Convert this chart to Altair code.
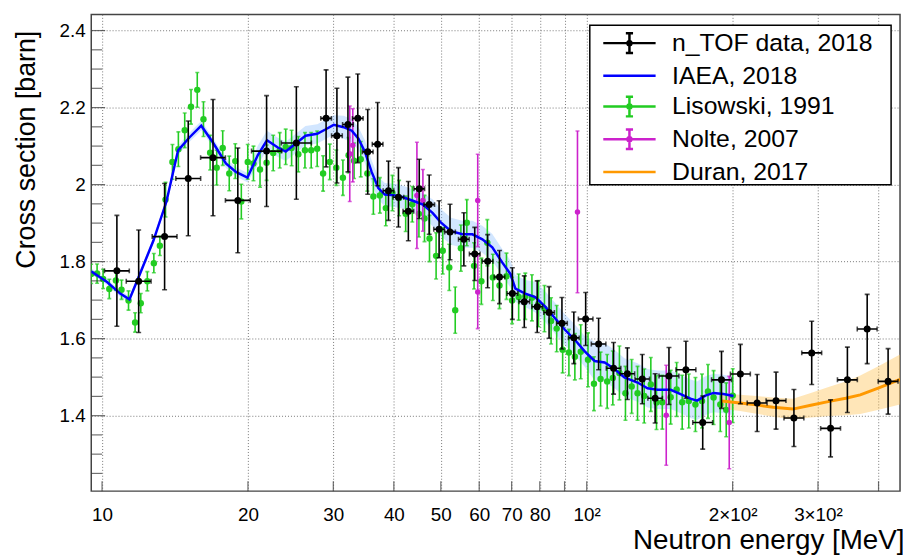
import altair as alt
import pandas as pd
import numpy as np

# ---------------- data ----------------
ntof_E = [10.73, 11.90, 13.46, 15.06, 16.94, 19.06, 21.85, 25.17, 28.99, 30.52,
          32.16, 33.70, 35.33, 37.03, 38.99, 40.88, 42.85, 45.13, 47.31, 49.59,
          52.23, 55.78, 58.74, 62.45, 66.07, 70.24, 74.33, 79.03, 83.62, 88.89,
          94.06, 99.5, 105.8, 113.6, 121.3, 130.2, 138.4, 147.8, 160.2, 173.5,
          189.7, 207.5, 224.7, 245.8, 267.6, 291.2, 318.5, 345.0, 379.0, 418.6]
ntof_xs = [1.776, 1.749, 1.865, 2.016, 2.070, 1.959, 2.087, 2.108, 2.172, 2.127,
           2.156, 2.172, 2.085, 2.105, 1.984, 1.967, 1.931, 1.989, 1.948, 1.884,
           1.877, 1.858, 1.820, 1.801, 1.760, 1.717, 1.696, 1.683, 1.668, 1.640,
           1.602, 1.651, 1.586, 1.523, 1.509, 1.495, 1.445, 1.503, 1.519, 1.382,
           1.493, 1.508, 1.433, 1.439, 1.394, 1.563, 1.367, 1.493, 1.625, 1.489]
ntof_err = [0.144, 0.133, 0.138, 0.149, 0.151, 0.136, 0.144, 0.146, 0.126, 0.123,
            0.123, 0.115, 0.110, 0.108, 0.077, 0.077, 0.077, 0.077, 0.077, 0.074,
            0.072, 0.069, 0.069, 0.069, 0.069, 0.067, 0.067, 0.067, 0.067, 0.067,
            0.067, 0.069, 0.067, 0.067, 0.067, 0.064, 0.064, 0.074, 0.074, 0.069,
            0.074, 0.077, 0.074, 0.074, 0.074, 0.082, 0.074, 0.085, 0.090, 0.085]
# half bin width in decades of energy
ntof_dlog = [0.0256] * 6 + [0.031] * 2 + [0.011] * 23 + [0.015] * 6 + [0.0205] * 13

lis_E = [9.495, 9.767, 10.05, 10.35, 10.68, 10.97, 11.34, 11.70, 12.02, 12.40,
         12.79, 13.16, 13.52, 13.97, 14.37, 14.81, 15.26, 15.72, 16.19, 16.71,
         17.24, 17.74, 18.30, 18.83, 19.38, 19.98, 20.53, 21.18, 21.85, 22.55,
         23.26, 23.93, 24.61, 25.41, 26.22, 27.01, 27.79, 28.58, 29.50, 30.43,
         31.40, 32.26, 33.11, 34.18, 35.27, 36.29, 37.43, 38.50, 39.73, 41.01,
         42.31, 43.66, 45.06, 46.27, 47.38, 48.89, 50.46, 52.05, 53.54, 55.00,
         56.57, 58.55, 60.62, 62.36, 64.02, 66.07, 68.30, 70.15, 72.37, 74.69,
         77.08, 79.51, 81.80, 84.42, 86.70, 89.19, 91.88, 94.52, 97.2, 100.6,
         103.5, 106.8, 110.2, 113.2, 116.8, 120.2, 123.8, 127.3, 131.4, 135.6,
         139.3, 143.2, 149.0, 153.3, 157.4, 162.4, 167.6, 172.9, 177.9, 182.7,
         188.6, 194.0, 200.1]
lis_xs = [1.768, 1.769, 1.755, 1.729, 1.751, 1.727, 1.699, 1.642, 1.692, 1.749,
          1.796, 1.841, 1.961, 2.059, 2.092, 2.141, 2.202, 2.246, 2.170, 2.083,
          2.044, 2.095, 2.029, 2.061, 1.956, 2.059, 2.055, 2.039, 2.057, 2.082,
          2.089, 2.098, 2.095, 2.079, 2.089, 2.089, 2.093, 2.029, 2.059, 2.044,
          2.018, 2.076, 2.062, 2.066, 2.029, 1.969, 1.972, 1.939, 1.978, 1.965,
          1.924, 1.949, 1.924, 1.912, 1.860, 1.815, 1.828, 1.785, 1.674, 1.835,
          1.901, 1.789, 1.749, 1.849, 1.759, 1.738, 1.762, 1.699, 1.708, 1.710,
          1.706, 1.691, 1.678, 1.646, 1.626, 1.571, 1.564, 1.553, 1.566, 1.545,
          1.483, 1.495, 1.489, 1.498, 1.511, 1.458, 1.476, 1.458, 1.451, 1.481,
          1.434, 1.435, 1.448, 1.468, 1.435, 1.438, 1.429, 1.438, 1.463, 1.447,
          1.429, 1.415, 1.452]
lis_err = [0.025] * 12 + [0.045] * 15 + [0.046] * 25 + [0.06] * 26 + [0.07] * 25

nolte_E = [32.44, 32.91, 44.63, 45.92, 59.58, 59.58, 95.7, 145.9, 196.8]
nolte_xs = [2.080, 2.102, 1.972, 1.959, 1.959, 1.721, 1.929, 1.401, 1.382]
nolte_err = [0.124, 0.095, 0.138, 0.080, 0.120, 0.095, 0.210, 0.130, 0.120]

iaea_E = [9.495, 10.24, 10.90, 11.39, 11.97, 12.76, 13.58, 14.35, 15.16, 16.02,
          16.92, 18.01, 18.89, 19.95, 20.95, 21.89, 23.01, 23.93, 25.29, 26.29,
          27.79, 28.89, 30.06, 31.51, 32.76, 33.81, 34.87, 35.99, 37.15, 38.32,
          40.17, 41.79, 43.80, 45.92, 48.13, 50.06, 52.48, 55.42, 58.09, 60.91,
          63.85, 66.93, 69.59, 71.26, 74.69, 78.29, 82.07, 86.03, 90.16, 94.52,
          99.06, 103.8, 108.9, 114.1, 119.6, 127.3, 133.5, 139.9, 149.0, 156.2,
          163.7, 168.9, 175.7, 182.7, 191.5, 200.8]
iaea_xs = [1.775, 1.747, 1.717, 1.702, 1.768, 1.854, 1.956, 2.089, 2.123, 2.153,
           2.110, 2.055, 2.033, 2.018, 2.076, 2.115, 2.097, 2.086, 2.110, 2.127,
           2.132, 2.143, 2.155, 2.149, 2.140, 2.119, 2.085, 2.033, 1.991, 1.974,
           1.972, 1.967, 1.958, 1.948, 1.926, 1.901, 1.879, 1.871, 1.871, 1.858,
           1.837, 1.798, 1.768, 1.730, 1.717, 1.708, 1.683, 1.653, 1.623, 1.597,
           1.567, 1.542, 1.538, 1.521, 1.499, 1.486, 1.471, 1.467, 1.467, 1.456,
           1.444, 1.439, 1.452, 1.459, 1.456, 1.451]
iaea_unc = [0.008] * 7 + [0.012] * 7 + [0.025] * 9 + [0.03] * 11 + [0.035] * 11 + [0.04] * 6 + [0.05] * 15

duran_E = [190.0, 207.2, 224.0, 242.4, 266.3, 289.9, 316.6, 342.3, 366.7, 400.6, 442.9]
duran_xs = [1.438, 1.433, 1.428, 1.422, 1.417, 1.427, 1.437, 1.445, 1.454, 1.472, 1.494]
duran_unc = [0.020, 0.021, 0.023, 0.025, 0.027, 0.032, 0.038, 0.044, 0.050, 0.057, 0.065]

series_names = ["n_TOF data, 2018", "IAEA, 2018", "Lisowski, 1991", "Nolte, 2007", "Duran, 2017"]
series_colors = ["#000000", "#0000ff", "#22cc22", "#cc22cc", "#ff9900"]

x_tick_values = [10, 20, 30, 40, 50, 60, 70, 80, 90, 100, 200, 300, 400]
y_major = [1.4, 1.6, 1.8, 2.0, 2.2, 2.4]
y_minor = [1.25, 1.3, 1.35, 1.45, 1.5, 1.55, 1.65, 1.7, 1.75, 1.85, 1.9, 1.95,
           2.05, 2.1, 2.15, 2.25, 2.3, 2.35]

# ---------------- frames ----------------
ntof = pd.DataFrame({"E": ntof_E, "v": ntof_xs, "e": ntof_err, "d": ntof_dlog})
ntof["lo"] = ntof.v - ntof.e
ntof["hi"] = ntof.v + ntof.e
ntof["xlo"] = ntof.E * 10 ** (-ntof.d)
ntof["xhi"] = ntof.E * 10 ** (ntof.d)

lis = pd.DataFrame({"E": lis_E, "v": lis_xs, "e": lis_err})
lis["lo"] = lis.v - lis.e
lis["hi"] = lis.v + lis.e

nol = pd.DataFrame({"E": nolte_E, "v": nolte_xs, "e": nolte_err})
nol["lo"] = nol.v - nol.e
nol["hi"] = nol.v + nol.e

iaea = pd.DataFrame({"E": iaea_E, "v": iaea_xs, "u": iaea_unc})
iaea["lo"] = iaea.v - iaea.u
iaea["hi"] = iaea.v + iaea.u

dur = pd.DataFrame({"E": duran_E, "v": duran_xs, "u": duran_unc})
dur["lo"] = dur.v - dur.u
dur["hi"] = dur.v + dur.u

W, H = 816, 481
FONT = "Liberation Sans"

xs = alt.Scale(type="log", domain=[9.5, 443], nice=False)
ys = alt.Scale(domain=[1.204, 2.442], nice=False, zero=False)

x_label_expr = ("datum.value == 100 ? '10²' : datum.value == 200 ? '2×10²' : "
                "datum.value == 300 ? '3×10²' : (datum.value == 90 || datum.value == 400) ? '' : "
                "format(datum.value, 'd')")

x_axis = alt.Axis(values=x_tick_values, grid=True, ticks=False, domain=False,
                  labelExpr=x_label_expr, labelFont=FONT, labelFontSize=19,
                  labelColor="black", labelPadding=15, labelBaseline="top",
                  labelFlush=False, labelOverlap=False,
                  gridColor="#777777", gridDash=[1, 2], gridWidth=1,
                  title="Neutron energy [MeV]", titleFont=FONT, titleFontSize=28,
                  titleFontWeight="normal", titleColor="black",
                  titleAnchor="end", titleAlign="right", titleBaseline="alphabetic",
                  titleX=W + 4, titleY=58)
y_axis = alt.Axis(values=y_major, grid=True, ticks=False, domain=False,
                  labelExpr="format(datum.value, '.1~f')", labelFont=FONT,
                  labelFontSize=19, labelColor="black", labelPadding=6,
                  gridColor="#777777", gridDash=[1, 2], gridWidth=1,
                  title="Cross section [barn]", titleFont=FONT, titleFontSize=27,
                  titleFontWeight="normal", titleColor="black",
                  titleAnchor="end", titleAlign="right", titleBaseline="alphabetic",
                  titleAngle=270, titleX=-57, titleY=16)


def X(field):
    return alt.X(field, type="quantitative", scale=xs, axis=x_axis)


def Y(field):
    return alt.Y(field, type="quantitative", scale=ys, axis=y_axis)


# bands
iaea_band = alt.Chart(iaea).mark_area(color="#7fb6ff", opacity=0.35, clip=True).encode(
    x=X("E"), y=Y("lo"), y2="hi")
dur_band = alt.Chart(dur).mark_area(color="#ffc14d", opacity=0.4, clip=True).encode(
    x=X("E"), y=Y("lo"), y2="hi")

# Lisowski
GREEN = series_colors[2]
lis_bar = alt.Chart(lis).mark_rule(color=GREEN, strokeWidth=1.6, clip=True).encode(
    x=X("E"), y=Y("lo"), y2="hi")
lis_cap_lo = alt.Chart(lis).mark_tick(color=GREEN, orient="horizontal", size=4, thickness=1.6, clip=True).encode(
    x=X("E"), y=Y("lo"))
lis_cap_hi = alt.Chart(lis).mark_tick(color=GREEN, orient="horizontal", size=4, thickness=1.6, clip=True).encode(
    x=X("E"), y=Y("hi"))
lis_pt = alt.Chart(lis).mark_point(color=GREEN, filled=True, opacity=1, size=42, shape="circle", clip=True).encode(
    x=X("E"), y=Y("v"))

# Nolte
MAG = series_colors[3]
nol_bar = alt.Chart(nol).mark_rule(color=MAG, strokeWidth=1.6, clip=True).encode(
    x=X("E"), y=Y("lo"), y2="hi")
nol_cap_lo = alt.Chart(nol).mark_tick(color=MAG, orient="horizontal", size=4, thickness=1.6, clip=True).encode(
    x=X("E"), y=Y("lo"))
nol_cap_hi = alt.Chart(nol).mark_tick(color=MAG, orient="horizontal", size=4, thickness=1.6, clip=True).encode(
    x=X("E"), y=Y("hi"))
nol_pt = alt.Chart(nol).mark_point(color=MAG, filled=True, opacity=1, size=30, shape="circle", clip=True).encode(
    x=X("E"), y=Y("v"))

# lines
iaea_line = alt.Chart(iaea).mark_line(color=series_colors[1], strokeWidth=2.5, clip=True).encode(
    x=X("E"), y=Y("v"))
dur_line = alt.Chart(dur).mark_line(color=series_colors[4], strokeWidth=3, clip=True).encode(
    x=X("E"), y=Y("v"))

# n_TOF
BLK = series_colors[0]
nt_vbar = alt.Chart(ntof).mark_rule(color=BLK, strokeWidth=1.6, clip=True).encode(
    x=X("E"), y=Y("lo"), y2="hi")
nt_hbar = alt.Chart(ntof).mark_rule(color=BLK, strokeWidth=1.6, clip=True).encode(
    x=X("xlo"), x2="xhi", y=Y("v"))
nt_cap_lo = alt.Chart(ntof).mark_tick(color=BLK, orient="horizontal", size=5, thickness=1.6, clip=True).encode(
    x=X("E"), y=Y("lo"))
nt_cap_hi = alt.Chart(ntof).mark_tick(color=BLK, orient="horizontal", size=5, thickness=1.6, clip=True).encode(
    x=X("E"), y=Y("hi"))
nt_cap_l = alt.Chart(ntof).mark_tick(color=BLK, orient="vertical", size=5, thickness=1.6, clip=True).encode(
    x=X("xlo"), y=Y("v"))
nt_cap_r = alt.Chart(ntof).mark_tick(color=BLK, orient="vertical", size=5, thickness=1.6, clip=True).encode(
    x=X("xhi"), y=Y("v"))
nt_pt = alt.Chart(ntof).mark_point(color=BLK, filled=True, opacity=1, size=50, shape="circle", clip=True).encode(
    x=X("E"), y=Y("v"))

# inner axis ticks (ROOT style)
ytm = alt.Chart(pd.DataFrame({"v": y_major})).mark_tick(
    color="#333333", orient="horizontal", size=14, thickness=1.2).encode(
    y=Y("v"), x=alt.value(7))
ytn = alt.Chart(pd.DataFrame({"v": y_minor})).mark_tick(
    color="#333333", orient="horizontal", size=11, thickness=1.2).encode(
    y=Y("v"), x=alt.value(5.5))
xtm = alt.Chart(pd.DataFrame({"E": x_tick_values})).mark_tick(
    color="#333333", orient="vertical", size=10, thickness=1.2).encode(
    x=X("E"), y=alt.value(H - 5))

# legend (dummy points outside the x domain, clipped)
errbar_path = ("M-1.6,0H1.6M0,-0.6V0.6M-0.22,-0.6H0.22M-0.22,0.6H0.22"
               "M0.12,0A0.12,0.12 0 1 1 -0.12,0A0.12,0.12 0 1 1 0.12,0")
line_path = "M-1.6,0H1.6"
leg_df = pd.DataFrame({"series": series_names, "E": [1.0] * 5, "v": [2.0] * 5})
PADCH = "\u2800"
leg_spec = alt.Legend(title=None, orient="none", legendX=503, legendY=11,
                      symbolSize=1089, symbolStrokeWidth=2.5,
                      symbolOffset=22, labelOffset=25,
                      labelFont=FONT, labelFontSize=25, labelColor="black",
                      labelExpr="datum.label + '" + PADCH + "'",
                      labelLimit=400,
                      padding=0, rowPadding=0,
                      strokeColor="black", fillColor="white")
legend = alt.Chart(leg_df).mark_point(filled=False, opacity=1, clip=True, strokeWidth=2.5).encode(
    x=X("E"), y=Y("v"),
    color=alt.Color("series:N", scale=alt.Scale(domain=series_names, range=series_colors), legend=leg_spec),
    shape=alt.Shape("series:N",
                    scale=alt.Scale(domain=series_names,
                                    range=[errbar_path, line_path, errbar_path, errbar_path, line_path]),
                    legend=leg_spec))

chart = alt.layer(
    iaea_band, dur_band,
    lis_bar, lis_cap_lo, lis_cap_hi, lis_pt,
    nol_bar, nol_cap_lo, nol_cap_hi, nol_pt,
    iaea_line, dur_line,
    nt_vbar, nt_hbar, nt_cap_lo, nt_cap_hi, nt_cap_l, nt_cap_r, nt_pt,
    ytm, ytn, xtm,
    legend,
).properties(
    width=W, height=H,
    autosize=alt.AutoSizeParams(type="none"),
    padding={"left": 84, "top": 4, "right": 3, "bottom": 62},
    background="white",
).configure_view(stroke="#444444", strokeWidth=1.5).configure_legend(
    strokeWidth=1.5)

chart.save("out.html", embed_options={"renderer": "svg", "actions": False})
